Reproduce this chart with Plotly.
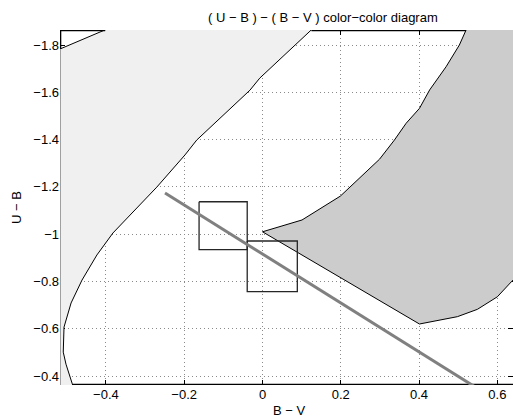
import plotly.graph_objects as go

# ---- data ----
# left envelope curve (boundary of light-grey region), top to bottom
left_x = [0.148, 0.125, -0.007, -0.032, -0.168, -0.198, -0.270, -0.382, -0.423, -0.461, -0.489, -0.507, -0.509, -0.502, -0.484, -0.473]
left_y = [-1.900, -1.864, -1.660, -1.609, -1.398, -1.335, -1.199, -1.005, -0.912, -0.806, -0.709, -0.607, -0.501, -0.450, -0.362, -0.300]
# top-left corner diagonal
corner_x = [-0.600, -0.351]
corner_y = [-1.725, -1.900]
# right region boundary (dark grey)
right_x = [0.535, 0.520, 0.503, 0.469, 0.427, 0.401, 0.367, 0.337, 0.299, 0.199, 0.101, 0.000, 0.401, 0.498, 0.549, 0.600, 0.636, 0.700, 0.700]
right_y = [-1.900, -1.863, -1.800, -1.708, -1.610, -1.532, -1.469, -1.398, -1.317, -1.161, -1.060, -1.010, -0.620, -0.651, -0.682, -0.735, -0.799, -0.900, -1.900]
# reddening line
red_x = [-0.249, 0.545]
red_y = [-1.174, -0.352]
# two boxes: [x0, x1], [y0, y1]
box1_x = [-0.162, -0.039]
box1_y = [-1.137, -0.935]
box2_x = [-0.039, 0.089]
box2_y = [-0.971, -0.757]

x_ticks = [-0.4, -0.2, 0, 0.2, 0.4, 0.6]
y_ticks = [-1.8, -1.6, -1.4, -1.2, -1.0, -0.8, -0.6, -0.4]
x_range = [-0.5173, 0.640]
y_range = [-0.362, -1.8635]

FONT = "Liberation Sans, Arial, Helvetica, sans-serif"

fig = go.Figure()

# light grey region
lg_x = corner_x + left_x + [-0.600]
lg_y = corner_y + left_y + [-0.300]
fig.add_trace(go.Scatter(x=lg_x, y=lg_y, mode="lines", fill="toself",
                         fillcolor="#f0f0f0", line=dict(color="black", width=1),
                         hoverinfo="skip", showlegend=False))
# dark grey region
fig.add_trace(go.Scatter(x=right_x, y=right_y, mode="lines", fill="toself",
                         fillcolor="#cccccc", line=dict(color="black", width=1),
                         hoverinfo="skip", showlegend=False))

# frame pieces visible over the white background
top = y_range[1]
bot = y_range[0]
lft = x_range[0]
frame_x = [left_x[1], right_x[1], None, left_x[-2], 0.70, None,
           -0.402, lft, lft]
frame_y = [top, top, None, bot, bot, None,
           top, top, -1.783]
fig.add_trace(go.Scatter(x=frame_x, y=frame_y, mode="lines",
                         line=dict(color="black", width=2.6),
                         hoverinfo="skip", showlegend=False))
fig.add_trace(go.Scatter(x=[lft, lft], y=[-1.783, bot], mode="lines",
                         line=dict(color="#a0a0a0", width=2),
                         hoverinfo="skip", showlegend=False))

# boxes
for bx, by in [(box1_x, box1_y), (box2_x, box2_y)]:
    fig.add_trace(go.Scatter(x=[bx[0], bx[1], bx[1], bx[0], bx[0]],
                             y=[by[0], by[0], by[1], by[1], by[0]],
                             mode="lines", line=dict(color="#262626", width=1.3),
                             hoverinfo="skip", showlegend=False))

# reddening line
fig.add_trace(go.Scatter(x=red_x, y=red_y, mode="lines",
                         line=dict(color="#808080", width=3),
                         hoverinfo="skip", showlegend=False))

W, H = 513, 420
L, R, T, B = 60, 0, 30, 35
pw, ph = W - L - R, H - T - B

def px(xp):
    return (xp - L) / pw

def py(yp):
    return (H - B - yp) / ph

axis_common = dict(ticks="inside", ticklen=5, tickcolor="black", mirror="ticks",
                   showline=False, showgrid=True, gridcolor="#8a8a8a",
                   griddash="1px,3px", gridwidth=1, zeroline=False,
                   layer="below traces", automargin=False,
                   tickfont=dict(family=FONT, size=13, color="black"))

fig.update_layout(
    width=W, height=H,
    margin=dict(l=L, r=R, t=T, b=B, autoexpand=False),
    paper_bgcolor="white", plot_bgcolor="white",
    font=dict(family=FONT, size=13, color="black"),
    showlegend=False,
    xaxis=dict(range=x_range, tickvals=x_ticks, **axis_common),
    yaxis=dict(range=y_range, tickvals=y_ticks, **axis_common),
    annotations=[
        dict(text="( U − B ) − ( B − V ) color−color diagram", xref="paper", yref="paper",
             x=px(322.5), y=py(17), xanchor="center", yanchor="middle", showarrow=False,
             font=dict(family=FONT, size=13, color="black")),
        dict(text="B − V", xref="paper", yref="paper",
             x=px(289), y=py(411), xanchor="center", yanchor="middle", showarrow=False,
             font=dict(family=FONT, size=13, color="black")),
        dict(text="U − B", xref="paper", yref="paper", textangle=-90,
             x=px(16.5), y=py(207.5), xanchor="center", yanchor="middle", showarrow=False,
             font=dict(family=FONT, size=13, color="black")),
    ],
)

fig.write_html("out.html", config={"displayModeBar": False},
               post_script="document.body.style.margin='0';document.body.style.overflow='hidden';")
